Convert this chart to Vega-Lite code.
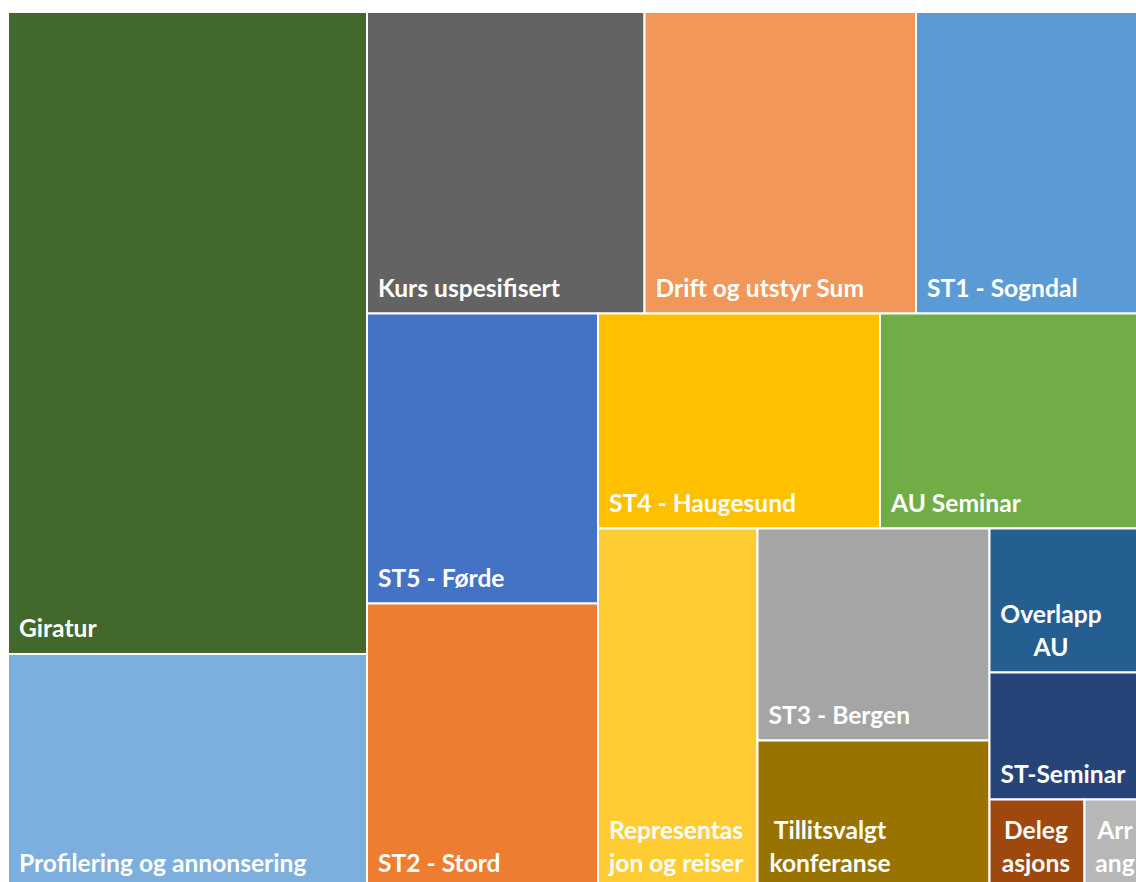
{
  "$schema": "https://vega.github.io/schema/vega-lite/v6.json",
  "width": 1136,
  "height": 882,
  "padding": 0,
  "autosize": {"type": "none"},
  "background": "#ffffff",
  "config": {"view": {"stroke": null}},
  "data": {
    "values": [
      {"name": "Giratur", "label": ["Giratur"], "x0": 8, "x1": 367, "y0": 12, "y1": 654, "anchor": "left"},
      {"name": "Profilering og annonsering", "label": ["Profilering og annonsering"], "x0": 8, "x1": 367, "y0": 654, "y1": 889, "anchor": "left"},
      {"name": "Kurs uspesifisert", "label": ["Kurs uspesifisert"], "x0": 367, "x1": 644.5, "y0": 12, "y1": 313.5, "anchor": "left"},
      {"name": "Drift og utstyr Sum", "label": ["Drift og utstyr Sum"], "x0": 644.5, "x1": 916, "y0": 12, "y1": 313.5, "anchor": "left"},
      {"name": "ST1 - Sogndal", "label": ["ST1 - Sogndal"], "x0": 916, "x1": 1142, "y0": 12, "y1": 313.5, "anchor": "left"},
      {"name": "ST5 - Førde", "label": ["ST5 - Førde"], "x0": 367, "x1": 598, "y0": 313.5, "y1": 603.5, "anchor": "left"},
      {"name": "ST2 - Stord", "label": ["ST2 - Stord"], "x0": 367, "x1": 598, "y0": 603.5, "y1": 889, "anchor": "left"},
      {"name": "ST4 - Haugesund", "label": ["ST4 - Haugesund"], "x0": 598, "x1": 880, "y0": 313.5, "y1": 528.5, "anchor": "left"},
      {"name": "AU Seminar", "label": ["AU Seminar"], "x0": 880, "x1": 1142, "y0": 313.5, "y1": 528.5, "anchor": "left"},
      {"name": "Representasjon og reiser", "label": ["Representas", "jon og reiser"], "x0": 598, "x1": 757.5, "y0": 528.5, "y1": 889, "anchor": "left2"},
      {"name": "ST3 - Bergen", "label": ["ST3 - Bergen"], "x0": 757.5, "x1": 989.5, "y0": 528.5, "y1": 740.5, "anchor": "left"},
      {"name": "Tillitsvalgt konferanse", "label": ["Tillitsvalgt", "konferanse"], "x0": 757.5, "x1": 989.5, "y0": 740.5, "y1": 889, "anchor": "center", "lx": 830},
      {"name": "Overlapp AU", "label": ["Overlapp", "AU"], "x0": 989.5, "x1": 1142, "y0": 528.5, "y1": 672.5, "anchor": "center", "lx": 1051},
      {"name": "ST-Seminar", "label": ["ST-Seminar"], "x0": 989.5, "x1": 1142, "y0": 672.5, "y1": 799.5, "anchor": "left"},
      {"name": "Delegasjons", "label": ["Deleg", "asjons"], "x0": 989.5, "x1": 1084.5, "y0": 799.5, "y1": 889, "anchor": "center", "lx": 1036},
      {"name": "Arrangement", "label": ["Arr", "ang"], "x0": 1084.5, "x1": 1142, "y0": 799.5, "y1": 889, "anchor": "center", "lx": 1115}
    ]
  },
  "layer": [
    {
      "mark": {"type": "rect", "stroke": "#ffffff", "strokeWidth": 2, "clip": true},
      "encoding": {
        "x": {"field": "x0", "type": "quantitative", "scale": {"domain": [0, 1136], "nice": false, "zero": false}, "axis": null},
        "x2": {"field": "x1"},
        "y": {"field": "y0", "type": "quantitative", "scale": {"domain": [0, 882], "nice": false, "zero": false, "reverse": true}, "axis": null},
        "y2": {"field": "y1"},
        "color": {
          "field": "name",
          "type": "nominal",
          "legend": null,
          "scale": {
            "domain": ["Giratur", "Profilering og annonsering", "Kurs uspesifisert", "Drift og utstyr Sum", "ST1 - Sogndal", "ST5 - Førde", "ST2 - Stord", "ST4 - Haugesund", "AU Seminar", "Representasjon og reiser", "ST3 - Bergen", "Tillitsvalgt konferanse", "Overlapp AU", "ST-Seminar", "Delegasjons", "Arrangement"],
            "range": ["#43682B", "#7CAFDD", "#636363", "#F1975A", "#5B9BD5", "#4472C4", "#ED7D31", "#FFC000", "#70AD47", "#FFCD33", "#A5A5A5", "#997300", "#255E91", "#264478", "#9E480E", "#B7B7B7"]
          }
        }
      }
    },
    {
      "transform": [{"filter": "datum.anchor == 'left'"}],
      "mark": {"type": "text", "align": "left", "baseline": "bottom", "dx": 11, "dy": -12, "font": "Lato", "fontSize": 24.6, "fontWeight": "bold", "fill": "#ffffff", "lineHeight": 33, "clip": true},
      "encoding": {
        "x": {"field": "x0", "type": "quantitative"},
        "y": {"field": "y1", "type": "quantitative"},
        "text": {"field": "label"}
      }
    },
    {
      "transform": [{"filter": "datum.anchor == 'left2'"}],
      "mark": {"type": "text", "align": "left", "baseline": "bottom", "dx": 11, "dy": -45, "font": "Lato", "fontSize": 24.6, "fontWeight": "bold", "fill": "#ffffff", "lineHeight": 33, "clip": true},
      "encoding": {
        "x": {"field": "x0", "type": "quantitative"},
        "y": {"field": "y1", "type": "quantitative"},
        "text": {"field": "label"}
      }
    },
    {
      "transform": [{"filter": "datum.anchor == 'center'"}],
      "mark": {"type": "text", "align": "center", "baseline": "bottom", "dy": -45, "font": "Lato", "fontSize": 24.6, "fontWeight": "bold", "fill": "#ffffff", "lineHeight": 33, "clip": true},
      "encoding": {
        "x": {"field": "lx", "type": "quantitative"},
        "y": {"field": "y1", "type": "quantitative"},
        "text": {"field": "label"}
      }
    }
  ]
}
